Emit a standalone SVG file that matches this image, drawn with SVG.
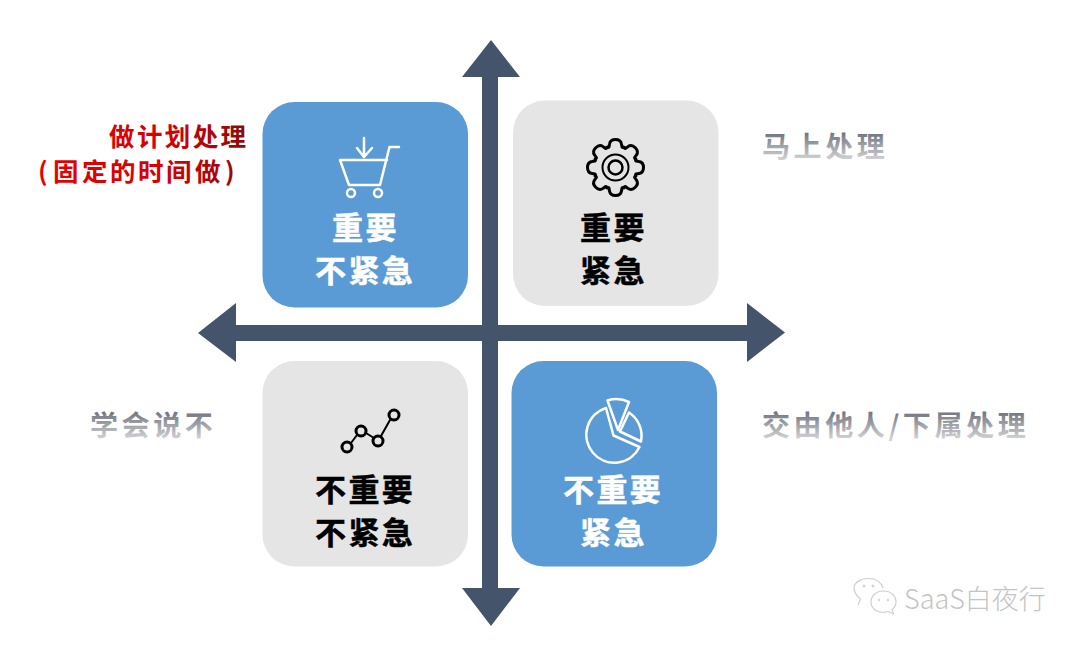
<svg xmlns="http://www.w3.org/2000/svg" width="1080" height="647" viewBox="0 0 1080 647">
<style>
text{font-family:"Noto Sans CJK SC","Noto Sans",sans-serif;font-weight:700}
.t{font-size:31px;letter-spacing:2.400px}
.l{font-size:28px;letter-spacing:3.600px;fill:url(#g)}
.r{font-size:25.500px;letter-spacing:2.400px;fill:url(#rg)}
.w{fill:#fff;stroke:#fff;stroke-width:.5}.k{fill:#000;stroke:#000;stroke-width:.5}
.blue{fill:#5b9bd5}.grey{fill:#e5e5e5}
.iw{fill:none;stroke:#fff;stroke-width:2.500;stroke-linejoin:round;stroke-linecap:round}
.ik{fill:none;stroke:#000;stroke-linejoin:round;stroke-linecap:round}
.wm{fill:none;stroke:#cfcfcf;stroke-width:1.200;stroke-linejoin:round}
</style>
<defs>
<linearGradient id="g" x1="0" y1="0" x2="0" y2="1"><stop offset="0.15" stop-color="#6a6e7a"/><stop offset="0.85" stop-color="#d0d0d3"/></linearGradient>
<linearGradient id="rg" gradientUnits="userSpaceOnUse" x1="40" y1="0" x2="247" y2="0"><stop offset="0" stop-color="#e60000"/><stop offset="0.6" stop-color="#d80000"/><stop offset="1" stop-color="#8c0a0a"/></linearGradient>
<path id="tooth" d="M-8.400-20.300C-6-19.300-6.500-21-6-23.500C-5.500-26.500-3-28 0-28C3-28 5.500-26.500 6-23.500C6.500-21 6-19.300 8.400-20.300"/>
</defs>
<rect width="1080" height="647" fill="#fff"/>
<g id="connectors" fill="#44546a">
<polygon id="axis-v" points="491,40 520,77 498,77 498,588 520,588 491,626 462,588 482,588 482,77 462,77"/>
<polygon id="axis-h" points="198,333 236,303 236,325 747,325 747,303 785,332.500 747,362 747,341 236,341 236,362"/>
</g>
<g id="node-tl">
<rect class="blue" x="262.500" y="102" width="205.500" height="205.500" rx="32"/>
<g class="iw">
<path d="M364 138V157M357 148L364 157L372 148"/>
<path d="M340 160H387M340 160L349 185H380L389.500 147H399"/>
<circle cx="351" cy="193" r="4"/><circle cx="378" cy="193" r="4"/>
</g>
<text class="t w" x="332" y="239">重要</text>
<text class="t w" x="315" y="282">不紧急</text>
</g>
<g id="node-tr">
<rect class="grey" x="513" y="100.500" width="205.500" height="205.500" rx="32"/>
<g class="ik" transform="translate(615.500,167.500)">
<g stroke-width="3">
<use href="#tooth"/><use href="#tooth" transform="rotate(45)"/><use href="#tooth" transform="rotate(90)"/><use href="#tooth" transform="rotate(135)"/><use href="#tooth" transform="rotate(180)"/><use href="#tooth" transform="rotate(225)"/><use href="#tooth" transform="rotate(270)"/><use href="#tooth" transform="rotate(315)"/>
</g>
<circle r="13" stroke-width="2"/><circle r="7" stroke-width="2.500"/>
</g>
<text class="t k" x="580" y="239">重要</text>
<text class="t k" x="580" y="282">紧急</text>
</g>
<g id="node-bl">
<rect class="grey" x="262.500" y="361" width="205.500" height="205.500" rx="32"/>
<g class="ik">
<path d="M351 443L357 435M366 433L374 438M381 436L390 420" stroke-width="2"/>
<g stroke-width="3">
<circle cx="347" cy="447" r="5"/><circle cx="361" cy="431" r="5"/><circle cx="378" cy="441" r="5"/><circle cx="394" cy="415" r="5"/>
</g>
</g>
<text class="t k" x="315" y="501">不重要</text>
<text class="t k" x="315" y="544">不紧急</text>
</g>
<g id="node-br">
<rect class="blue" x="511.500" y="361" width="205.500" height="205.500" rx="32"/>
<g class="iw">
<path d="M606 408A28 28 0 1 0 639.500 447L613.500 435.500Z"/>
<path d="M607.500 400.500A30 30 0 0 1 629 402L618 430Z"/>
<path d="M629 412.500A28 28 0 0 1 641 441.500L620 431.500Z"/>
</g>
<text class="t w" x="563" y="501">不重要</text>
<text class="t w" x="580" y="544">紧急</text>
</g>
<g id="label-tl">
<text class="r" x="109" y="146">做计划处理</text>
<text class="r" x="38 53 82 110 138 166 195 225" y="181">(固定的时间做)</text>
</g>
<g id="label-tr"><text class="l" x="762" y="157">马上处理</text></g>
<g id="label-bl"><text class="l" x="90" y="436">学会说不</text></g>
<g id="label-br"><text class="l" x="762" y="436">交由他人/下属处理</text></g>
<g id="watermark">
<path class="wm" d="M858 605L860.500 599C855 595 854 590 854 587C855 582 861 578.500 868.500 578.500C876 578.500 881 582 883 588"/>
<path class="wm" d="M883.500 591C891 591 896 596 896 602C896 605 894 608 892 609.500L893.500 614L888 611.500C880 614 871 610 871 602C871 596 876 591 883.500 591Z"/>
<circle cx="864" cy="586" r="1.500" fill="#d5d5d5"/><circle cx="873" cy="586" r="1.500" fill="#d5d5d5"/>
<circle cx="879" cy="600" r="1.200" fill="#d5d5d5"/><circle cx="888" cy="600" r="1.200" fill="#d5d5d5"/>
<text x="904" y="609" style="font-weight:300;font-size:27px;fill:#c4c4c4">SaaS白夜行</text>
</g>
</svg>
